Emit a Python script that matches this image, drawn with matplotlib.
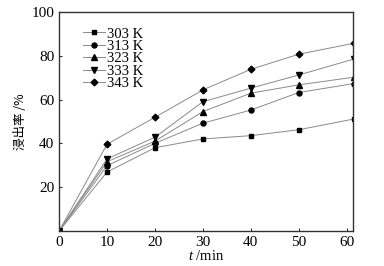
import matplotlib
matplotlib.use('Agg')
import matplotlib.pyplot as plt

plt.rcParams['font.family'] = ['Liberation Serif', 'Noto Sans CJK SC']
plt.rcParams['mathtext.fontset'] = 'custom'
plt.rcParams['mathtext.it'] = 'Liberation Serif:italic'
plt.rcParams['mathtext.rm'] = 'Liberation Serif'

# ---- data ----
t = [0, 10, 20, 30, 40, 50, 61.5]
temps = ['303 K', '313 K', '323 K', '333 K', '343 K']
y303 = [0, 26.9, 38.0, 42.0, 43.5, 46.2, 51.1]
y313 = [0, 29.8, 40.0, 49.2, 55.2, 63.2, 67.3]
y323 = [0, 31.6, 41.0, 54.5, 62.9, 66.7, 70.2]
y333 = [0, 32.9, 42.8, 59.0, 65.2, 71.2, 78.5]
y343 = [0, 39.6, 51.9, 64.4, 73.8, 80.7, 85.7]
series = [y303, y313, y323, y333, y343]
markers = ['s', 'o', '^', 'v', 'D']
msizes = [3.2, 3.6, 3.8, 3.8, 3.4]

fig = plt.figure(figsize=(3.84, 2.66), dpi=100)
ax = fig.add_axes([0.154, 0.132, 0.765, 0.823])

for ys, lab, mk, ms in zip(series, temps, markers, msizes):
    ax.plot(t, ys, color='#8a8a8a', lw=0.7, marker=mk, ms=ms,
            mfc='black', mec='black', label=lab)

ax.set_xlim(0, 61.3)
ax.set_ylim(0, 100)
ax.set_xticks([0, 10, 20, 30, 40, 50, 60])
ax.set_yticks([20, 40, 60, 80, 100])
ax.tick_params(direction='in', length=2, labelsize=11, width=0.6)
for s in ax.spines.values():
    s.set_linewidth(1.0)
    s.set_color('#333333')

ax.set_xlabel(r'$t$ /min', fontsize=10.5, labelpad=0)
ax.set_ylabel('浸出率 /%', fontsize=9, labelpad=3,
              family=['Noto Sans CJK SC', 'Liberation Serif'])

leg = ax.legend(loc='upper left', bbox_to_anchor=(0.08, 0.93), frameon=False,
                fontsize=10.5, handlelength=1.5, handletextpad=0.15,
                labelspacing=-0.05, borderaxespad=0, borderpad=0)

fig.savefig('out.png', dpi=100)
